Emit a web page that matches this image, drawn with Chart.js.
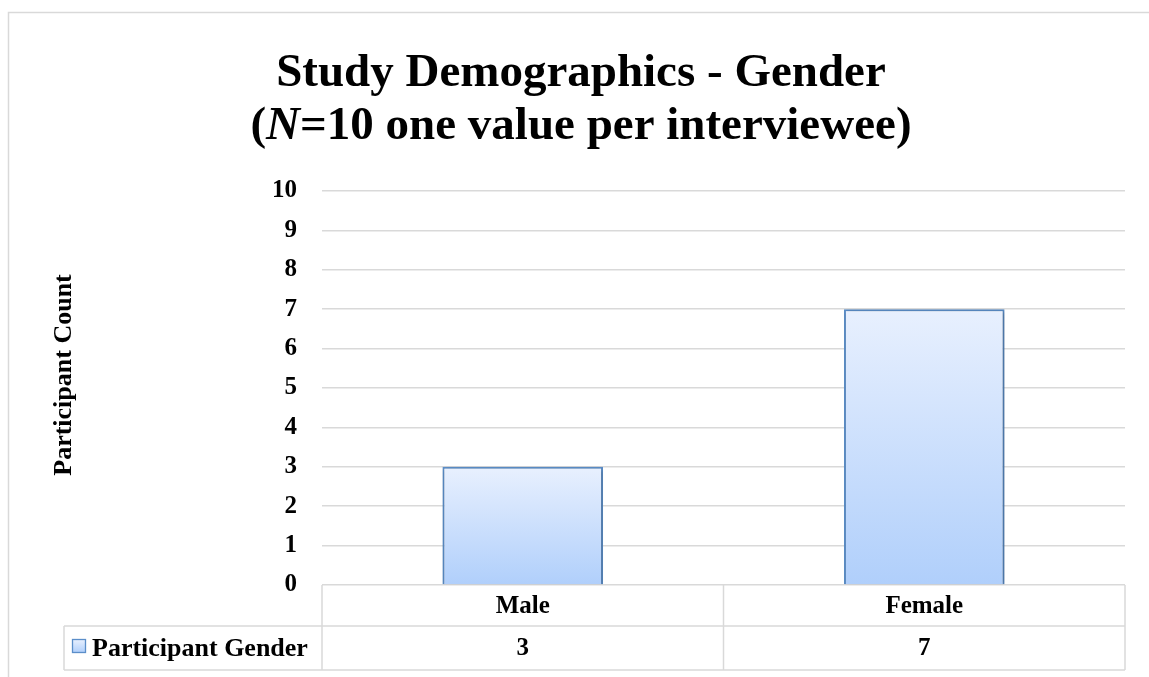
<!DOCTYPE html>
<html>
<head>
<meta charset="utf-8">
<title>Study Demographics - Gender</title>
<script src="https://cdn.jsdelivr.net/npm/chart.js@4.4.0/dist/chart.umd.min.js"></script>
<style>
    html, body { margin: 0; padding: 0; background: #fff; }
    #wrap { width: 1149px; height: 677px; position: relative; }
</style>
</head>
<body>
<div id="wrap"><canvas id="genderChart"></canvas></div>
<script>
// datos del grafico
const categories = ['Male', 'Female'];
const counts = [3, 7];
const seriesName = 'Participant Gender';
const yTicks = [0, 1, 2, 3, 4, 5, 6, 7, 8, 9, 10];
const titleLine1 = 'Study Demographics - Gender';
const titleLine2 = ['(', 'N', '=10 one value per interviewee)'];
const yAxisTitle = 'Participant Count';

const serif = "'Liberation Serif', 'Times New Roman', serif";
const gridGray = '#d9d9d9';

const ctx = document.getElementById('genderChart').getContext('2d');

function barGradient(context) {
    const chart = context.chart;
    const area = chart.chartArea;
    if (!area || context.parsed === undefined) return '#cfe0fc';
    const y = chart.scales.y;
    const top = y.getPixelForValue(context.parsed.y);
    const base = y.getPixelForValue(0);
    const g = chart.ctx.createLinearGradient(0, top, 0, base);
    g.addColorStop(0, '#e8f0fe');
    g.addColorStop(1, '#b0cffb');
    return g;
}

// sombra suave de las barras
const barShadow = {
    id: 'barShadow',
    beforeDatasetsDraw(chart) {
        const c = chart.ctx;
        c.save();
        c.shadowColor = 'rgba(0,0,0,0.28)';
        c.shadowBlur = 4;
        c.shadowOffsetX = 1;
        c.shadowOffsetY = 1;
    },
    afterDatasetsDraw(chart) {
        chart.ctx.restore();
    }
};

// marco, titulo, titulo del eje y tabla de datos
const decor = {
    id: 'decor',
    beforeDraw(chart) {
        const c = chart.ctx;
        c.save();
        c.strokeStyle = gridGray;
        c.lineWidth = 1.5;
        c.beginPath();
        c.moveTo(8.5, 700);
        c.lineTo(8.5, 12.5);
        c.lineTo(1160, 12.5);
        c.stroke();
        c.restore();
    },
    afterDraw(chart) {
        const c = chart.ctx;
        const area = chart.chartArea;
        const xs = chart.scales.x;
        const ys = chart.scales.y;
        c.save();

        // titulo
        const cx = 581;
        c.fillStyle = '#000';
        c.textBaseline = 'alphabetic';
        c.textAlign = 'center';
        c.font = 'bold 47px ' + serif;
        c.fillText(titleLine1, cx, 86);

        const fonts = ['bold 47px ' + serif, 'italic bold 47px ' + serif, 'bold 47px ' + serif];
        let total = 0;
        const widths = titleLine2.map((t, i) => {
            c.font = fonts[i];
            const w = c.measureText(t).width;
            total += w;
            return w;
        });
        let x = cx - total / 2;
        c.textAlign = 'left';
        titleLine2.forEach((t, i) => {
            c.font = fonts[i];
            c.fillText(t, x, 139);
            x += widths[i];
        });

        // titulo del eje y
        c.save();
        c.translate(64, 375);
        c.rotate(-Math.PI / 2);
        c.textAlign = 'center';
        c.textBaseline = 'middle';
        c.font = 'bold 26px ' + serif;
        c.fillText(yAxisTitle, 0, 0);
        c.restore();

        // tabla de datos
        const row1Top = ys.getPixelForValue(0);
        const row2Top = 626;
        const bottom = 670;
        const legendLeft = 64;
        const mid = (xs.getPixelForValue(0) + xs.getPixelForValue(1)) / 2;

        c.strokeStyle = gridGray;
        c.lineWidth = 1.5;
        c.beginPath();
        c.moveTo(area.left, row1Top);
        c.lineTo(area.left, bottom);
        c.moveTo(mid, row1Top);
        c.lineTo(mid, bottom);
        c.moveTo(area.right, row1Top);
        c.lineTo(area.right, bottom);
        c.moveTo(legendLeft, row2Top);
        c.lineTo(area.right, row2Top);
        c.moveTo(legendLeft, bottom);
        c.lineTo(area.right, bottom);
        c.moveTo(legendLeft, row2Top);
        c.lineTo(legendLeft, bottom);
        c.stroke();

        c.fillStyle = '#000';
        c.textAlign = 'center';
        c.textBaseline = 'middle';
        c.font = 'bold 25px ' + serif;
        categories.forEach((cat, i) => {
            const px = xs.getPixelForValue(i);
            c.fillText(cat, px, (row1Top + row2Top) / 2 + 1);
            c.fillText(String(counts[i]), px, (row2Top + bottom) / 2 + 1);
        });

        // clave de la leyenda
        const kx = 72.5, ky = 639.5, ks = 13;
        const kg = c.createLinearGradient(0, ky, 0, ky + ks);
        kg.addColorStop(0, '#e8f0fe');
        kg.addColorStop(1, '#b0cffb');
        c.fillStyle = kg;
        c.fillRect(kx, ky, ks, ks);
        c.strokeStyle = '#5b8ec9';
        c.lineWidth = 1.3;
        c.strokeRect(kx, ky, ks, ks);

        c.fillStyle = '#000';
        c.textAlign = 'left';
        c.font = 'bold 26px ' + serif;
        c.fillText(seriesName, 92, (row2Top + bottom) / 2 + 1);

        c.restore();
    }
};

const myChart = new Chart(ctx, {
    type: 'bar',
    data: {
        labels: categories,
        datasets: [{
            label: seriesName,
            data: counts,
            backgroundColor: barGradient,
            borderColor: '#5b8ec9',
            borderWidth: 2,
            barPercentage: 0.4,
            categoryPercentage: 1
        }]
    },
    options: {
        responsive: true,
        maintainAspectRatio: false,
        animation: false,
        layout: {
            padding: { left: 8, right: 24, top: 191, bottom: 0 }
        },
        plugins: {
            legend: { display: false },
            title: { display: false },
            tooltip: { enabled: false }
        },
        scales: {
            x: {
                ticks: { display: false },
                grid: { display: false },
                border: { display: false },
                afterFit(scale) { scale.height = 92; }
            },
            y: {
                min: 0,
                max: 10,
                afterBuildTicks(scale) {
                    scale.ticks = yTicks.map(v => ({ value: v }));
                },
                ticks: {
                    color: '#000',
                    padding: 25,
                    font: { family: serif, size: 25, weight: 'bold' }
                },
                grid: { color: gridGray, lineWidth: 1.5, drawTicks: false },
                border: { display: false },
                afterFit(scale) { scale.width = 314; }
            }
        }
    },
    plugins: [barShadow, decor]
});
</script>
</body>
</html>
